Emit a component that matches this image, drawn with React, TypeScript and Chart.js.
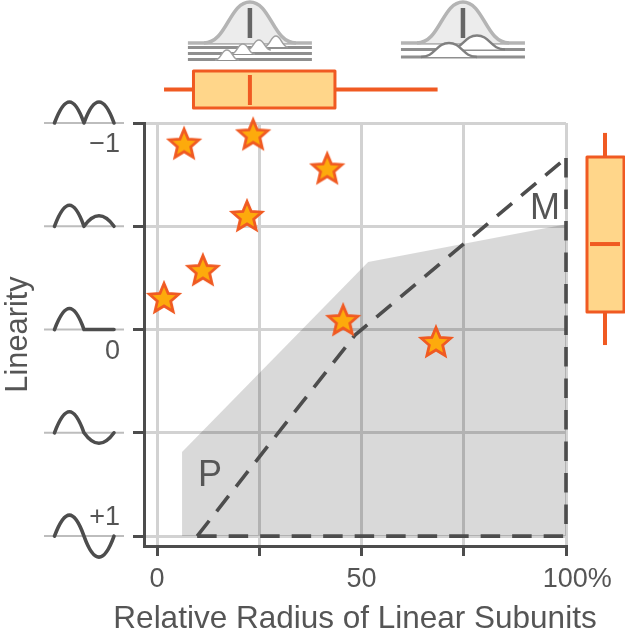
import React, { useEffect, useRef } from "react";
import { Chart, registerables } from "chart.js";

Chart.register(...registerables);

const xTicks = [0, 25, 50, 75, 100];
const xLabels: Record<number, string> = { 0: "0", 50: "50", 100: "   100%" };
const xTitle = "Relative Radius of Linear Subunits";
const yTicks = [-1, -0.5, 0, 0.5, 1];
const yLabels = [
  { v: -1, t: "\u22121" },
  { v: 0, t: "0" },
  { v: 1, t: "+1" },
];
const starX = [6.6, 23.5, 41.6, 22, 11.2, 1.7, 45.5, 68.2];
const starY = [-0.895, -0.94, -0.775, -0.545, -0.283, -0.148, -0.041, 0.065];
const areaX = [6.1, 6.1, 51.6, 100, 100];
const areaY = [1, 0.593, -0.327, -0.51, 1];
const diagX = [9.8, 48.4, 100];
const diagY = [1, 0.027, -0.83];
const baseX = [9.8, 100];
const baseY = [1, 1];
const sideX = [100, 100];
const sideY = [-0.83, 1];
const secondHump = [1, 0.5, 0, -0.5, -1];
const xBox = { low: 1.7, q1: 8.9, med: 22.7, q3: 43.5, high: 68.6 };
const yBox = { low: -0.952, q1: -0.835, med: -0.414, q3: -0.085, high: 0.075 };
const densityCenters = [22.7, 74.8];

const INK = "#4d4d4d";
const TEXT = "#555555";
const ORANGE = "#f05a22";
const FONT = "'Liberation Sans', Arial, sans-serif";

function makeStar() {
  const c = document.createElement("canvas");
  c.width = 40;
  c.height = 40;
  const g = c.getContext("2d")!;
  g.beginPath();
  for (let i = 0; i < 10; i++) {
    const r = i % 2 === 0 ? 15.5 : 7;
    const a = -Math.PI / 2 + (i * Math.PI) / 5;
    const px = 20 + r * Math.cos(a);
    const py = 20 + r * Math.sin(a);
    if (i === 0) g.moveTo(px, py);
    else g.lineTo(px, py);
  }
  g.closePath();
  g.fillStyle = "#fdaa0c";
  g.fill();
  g.lineWidth = 2.8;
  g.lineJoin = "miter";
  g.strokeStyle = ORANGE;
  g.stroke();
  return c;
}

function bump(g: CanvasRenderingContext2D, cx: number, base: number, half: number, h: number) {
  g.moveTo(cx - half, base);
  g.bezierCurveTo(cx - half * 0.5, base, cx - half * 0.45, base - h, cx, base - h);
  g.bezierCurveTo(cx + half * 0.45, base - h, cx + half * 0.5, base, cx + half, base);
}

const decor = {
  id: "decor",
  afterDatasetsDraw(chart: any) {
    const g: CanvasRenderingContext2D = chart.ctx;
    const x = chart.scales.x;
    const y = chart.scales.y;
    g.save();
    // waveform glyphs beside the linearity ticks
    yTicks.forEach((v, i) => {
      const py = y.getPixelForValue(v);
      g.strokeStyle = "#bdbdbd";
      g.lineWidth = 2;
      g.beginPath();
      g.moveTo(44, py);
      g.lineTo(124, py);
      g.stroke();
      g.strokeStyle = INK;
      g.lineWidth = 3.6;
      g.lineCap = "round";
      g.lineJoin = "round";
      g.beginPath();
      g.moveTo(54.5, py);
      g.bezierCurveTo(65, py - 28, 74, py - 28, 84, py);
      const h = secondHump[i] * 28;
      g.bezierCurveTo(94, py - h, 104, py - h, 114, py);
      g.stroke();
      g.lineCap = "butt";
    });
    // y labels and curve letters
    g.fillStyle = TEXT;
    g.font = `27px ${FONT}`;
    g.textAlign = "right";
    g.textBaseline = "middle";
    yLabels.forEach(({ v, t }) => {
      const off = v < 0 ? 22 : v > 0 ? -19 : 22;
      g.fillText(t, 120, y.getPixelForValue(v) + off);
    });
    g.font = `36px ${FONT}`;
    g.textAlign = "left";
    g.textBaseline = "alphabetic";
    g.fillText("P", 198, 486);
    g.fillText("M", 530, 219);
    // x axis title is wider than the plot, so it is set here
    g.font = `31.5px ${FONT}`;
    g.textAlign = "center";
    g.fillText(xTitle, 355, 628);

    // top box plot
    g.strokeStyle = ORANGE;
    g.lineWidth = 4;
    g.beginPath();
    g.moveTo(x.getPixelForValue(xBox.low), 89.5);
    g.lineTo(x.getPixelForValue(xBox.high), 89.5);
    g.stroke();
    g.fillStyle = "#ffd68a";
    const bx = x.getPixelForValue(xBox.q1);
    const bw = x.getPixelForValue(xBox.q3) - bx;
    g.lineWidth = 3;
    g.fillRect(bx, 71, bw, 37);
    g.strokeRect(bx, 71, bw, 37);
    g.lineWidth = 4;
    g.beginPath();
    g.moveTo(x.getPixelForValue(xBox.med), 75);
    g.lineTo(x.getPixelForValue(xBox.med), 105);
    g.stroke();

    // right box plot
    g.beginPath();
    g.moveTo(605, y.getPixelForValue(yBox.low));
    g.lineTo(605, y.getPixelForValue(yBox.high));
    g.stroke();
    const by = y.getPixelForValue(yBox.q1);
    const bh = y.getPixelForValue(yBox.q3) - by;
    g.lineWidth = 3;
    g.fillRect(587, by, 37, bh);
    g.strokeRect(587, by, 37, bh);
    g.lineWidth = 4;
    g.beginPath();
    g.moveTo(590, y.getPixelForValue(yBox.med));
    g.lineTo(620, y.getPixelForValue(yBox.med));
    g.stroke();

    // density glyphs above the plot
    densityCenters.forEach((m, k) => {
      const cx = x.getPixelForValue(m);
      const lines = k === 0 ? [47.5, 53.5, 59.5] : [49.5, 57];
      g.strokeStyle = "#8f8f8f";
      g.lineWidth = 2.8;
      lines.forEach((ly) => {
        g.beginPath();
        g.moveTo(cx - 62, ly);
        g.lineTo(cx + 62, ly);
        g.stroke();
      });
      g.strokeStyle = "#b4b4b4";
      g.lineWidth = 3.6;
      g.beginPath();
      g.moveTo(cx - 62, 43);
      g.lineTo(cx + 62, 43);
      g.stroke();
      g.fillStyle = "#ececec";
      g.beginPath();
      bump(g, cx, 43, 46, 41);
      g.closePath();
      g.fill();
      g.beginPath();
      bump(g, cx, 43, 46, 41);
      g.stroke();
      g.strokeStyle = "#666666";
      g.lineWidth = 4.5;
      g.beginPath();
      g.moveTo(cx, 8);
      g.lineTo(cx, 38);
      g.stroke();
      const humps =
        k === 0
          ? [
              [26, 47, 12, 11],
              [9, 50, 12, 10],
              [-7, 54, 12, 10],
              [-23, 60, 12, 10],
            ]
          : [
              [14, 49.5, 28, 14],
              [-14, 57, 28, 14],
            ];
      humps.forEach(([dx, base, half, h]) => {
        g.fillStyle = "#ffffff";
        g.strokeStyle = k === 0 ? "#a0a0a0" : "#808080";
        g.lineWidth = k === 0 ? 1.5 : 2.4;
        g.beginPath();
        bump(g, cx + dx, base, half, h);
        g.closePath();
        g.fill();
        g.beginPath();
        bump(g, cx + dx, base, half, h);
        g.stroke();
      });
    });
    g.restore();
  },
};

export default function App() {
  const ref = useRef<HTMLCanvasElement>(null);
  useEffect(() => {
    const toPts = (xs: number[], ys: number[]) => xs.map((v, i) => ({ x: v, y: ys[i] }));
    const dashStyle = {
      showLine: true,
      pointRadius: 0,
      borderColor: INK,
      borderWidth: 3.6,
      borderDash: [19.5, 12],
      borderCapStyle: "butt" as const,
      tension: 0,
      clip: false as any,
      order: 1,
    };
    const chart = new Chart(ref.current!, {
      type: "scatter",
      data: {
        datasets: [
          {
            data: toPts(starX, starY),
            pointStyle: makeStar() as any,
            pointRadius: 15,
            clip: false as any,
            order: 0,
          },
          { ...dashStyle, data: toPts(diagX, diagY) },
          { ...dashStyle, data: toPts(baseX, baseY) },
          { ...dashStyle, data: toPts(sideX, sideY) },
          {
            data: toPts(areaX, areaY),
            showLine: true,
            pointRadius: 0,
            borderWidth: 0,
            borderColor: "rgba(0,0,0,0)",
            backgroundColor: "rgba(0,0,0,0.15)",
            fill: { value: 1 } as any,
            tension: 0,
            order: 2,
          },
        ],
      },
      options: {
        animation: false,
        responsive: false,
        events: [],
        layout: { padding: { top: 123, right: 59, left: 0, bottom: 0 } },
        plugins: { legend: { display: false }, tooltip: { enabled: false }, title: { display: false } },
        scales: {
          x: {
            type: "linear",
            min: -3.2,
            max: 100,
            afterBuildTicks: (s: any) => {
              s.ticks = xTicks.map((value) => ({ value }));
            },
            afterFit: (s: any) => {
              s.height = 93;
            },
            ticks: {
              autoSkip: false,
              maxRotation: 0,
              padding: 7,
              color: TEXT,
              font: { family: FONT, size: 27 },
              callback: (v: any) => xLabels[v as number] ?? "",
            },
            grid: { color: "#d2d2d2", lineWidth: 3, tickColor: INK, tickLength: 10, tickWidth: 3 },
            border: { display: true, color: INK, width: 3 },
            title: { display: false },
          },
          y: {
            type: "linear",
            reverse: true,
            min: -1,
            max: 1.048,
            afterBuildTicks: (s: any) => {
              s.ticks = yTicks.map((value) => ({ value }));
            },
            afterFit: (s: any) => {
              s.width = 144;
            },
            ticks: { display: false },
            grid: { color: "#d2d2d2", lineWidth: 3, tickColor: INK, tickLength: 11, tickWidth: 3 },
            border: { display: true, color: INK, width: 3 },
            title: {
              display: true,
              text: "Linearity",
              color: TEXT,
              font: { family: FONT, size: 30.8 },
              padding: { top: 0, bottom: 0 },
            },
          },
        },
      },
      plugins: [decor],
    } as any);
    return () => chart.destroy();
  }, []);
  return (
    <canvas
      ref={ref}
      width={625}
      height={639}
      style={{ position: "absolute", left: 0, top: 0, display: "block", width: 625, height: 639 }}
    />
  );
}
